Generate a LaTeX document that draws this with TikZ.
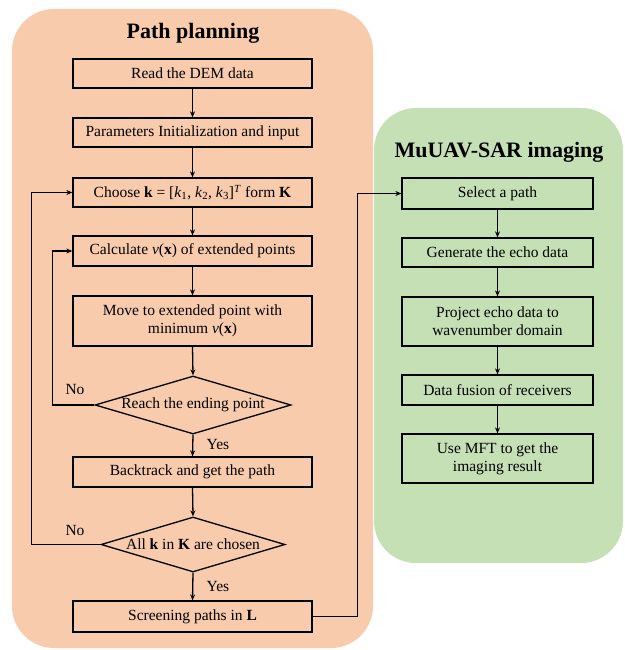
\documentclass[tikz,border=0pt]{standalone}
\usepackage{fontspec}
\setmainfont{Liberation Serif}
\usetikzlibrary{arrows.meta,shapes.geometric}
\definecolor{panelorange}{HTML}{F7CBAC}
\definecolor{panelgreen}{HTML}{C5E0B4}
\begin{document}
\begin{tikzpicture}[x=1pt,y=-1pt,
  txt/.style={font=\fontsize{15.5}{18}\selectfont, align=center},
  ttl/.style={font=\fontsize{22}{26}\selectfont\bfseries},
  lbox/.style={txt, draw, line width=1.3pt, minimum width=239pt, inner sep=0pt},
  rbox/.style={txt, draw, line width=1.3pt, minimum width=191pt, inner sep=0pt},
  dec/.style={txt, draw, line width=1.3pt, shape=diamond, inner sep=0pt},
  arr/.style={line width=1.3pt, -{Stealth[length=6pt,width=5pt]}},
  conn/.style={line width=1.3pt},
  lbl/.style={font=\fontsize{15.5}{18}\selectfont}
]
\useasboundingbox (0,0) rectangle (624,650);
% panels
\fill[panelgreen, rounded corners=42pt] (374,108) rectangle (623,563);
\fill[panelorange, rounded corners=42pt] (12,9) rectangle (373,648);

\node[ttl] (t1) at (193,33) {Path planning};
\node[ttl] (t2) at (499,152) {MuUAV-SAR imaging};

% left column
\node[lbox, minimum height=29pt] (b1) at (192.5,73.5) {Read the DEM data};
\node[lbox, minimum height=29pt] (b2) at (192.5,132.5) {Parameters Initialization and input};
\node[lbox, minimum height=29pt] (b3) at (192.5,192.5) {Choose \textbf{k} = [\textit{k}\textsubscript{1}, \textit{k}\textsubscript{2}, \textit{k}\textsubscript{3}]\textsuperscript{\textit{T}} form \textbf{K}};
\node[lbox, minimum height=30pt] (b4) at (192.5,251) {Calculate \textit{v}(\textbf{x}) of extended points};
\node[lbox, minimum height=50pt] (b5) at (192.5,321) {Move to extended point with\\minimum \textit{v}(\textbf{x})};
\node[dec, shape aspect=3.4, minimum width=196pt, minimum height=58pt] (d1) at (193,405) {Reach the ending point};
\node[lbox, minimum height=30pt] (b6) at (192.5,472) {Backtrack and get the path};
\node[dec, shape aspect=3.5, minimum width=184pt, minimum height=55pt] (d2) at (193,544.5) {All \textbf{k} in \textbf{K} are chosen};
\node[lbox, minimum height=31pt] (b7) at (192.5,616.5) {Screening paths in \textbf{L}};

% right column
\node[rbox, minimum height=31pt] (r1) at (497.5,193.5) {Select a path};
\node[rbox, minimum height=29pt] (r2) at (497.5,252.5) {Generate the echo data};
\node[rbox, minimum height=49pt] (r3) at (497.5,321.5) {Project echo data to\\wavenumber domain};
\node[rbox, minimum height=30pt] (r4) at (497.5,390) {Data fusion of receivers};
\node[rbox, minimum height=49pt] (r5) at (497.5,458.5) {Use MFT to get the\\imaging result};

% labels
\node[lbl] (no1) at (75,389) {No};
\node[lbl] (no2) at (75,530) {No};
\node[lbl] (yes1) at (218,444) {Yes};
\node[lbl] (yes2) at (218,586) {Yes};

% arrows left
\draw[arr] (b1) -- (b2);
\draw[arr] (b2) -- (b3);
\draw[arr] (b3) -- (b4);
\draw[arr] (b4) -- (b5);
\draw[arr] (b5.south) -- (d1.north);
\draw[arr] (d1.south) -- (b6.north);
\draw[arr] (b6.south) -- (d2.north);
\draw[arr] (d2.south) -- (b7.north);
\draw[arr] (d1.west) -- ++(-42,0) |- (b4.west);
\draw[arr] (d2.west) -- ++(-69,0) |- (b3.west);
% cross connector
\draw[arr] (b7.east) -- ++(45,0) |- (r1.west);
% arrows right
\draw[arr] (r1) -- (r2);
\draw[arr] (r2) -- (r3);
\draw[arr] (r3) -- (r4);
\draw[arr] (r4) -- (r5);
\end{tikzpicture}
\end{document}
